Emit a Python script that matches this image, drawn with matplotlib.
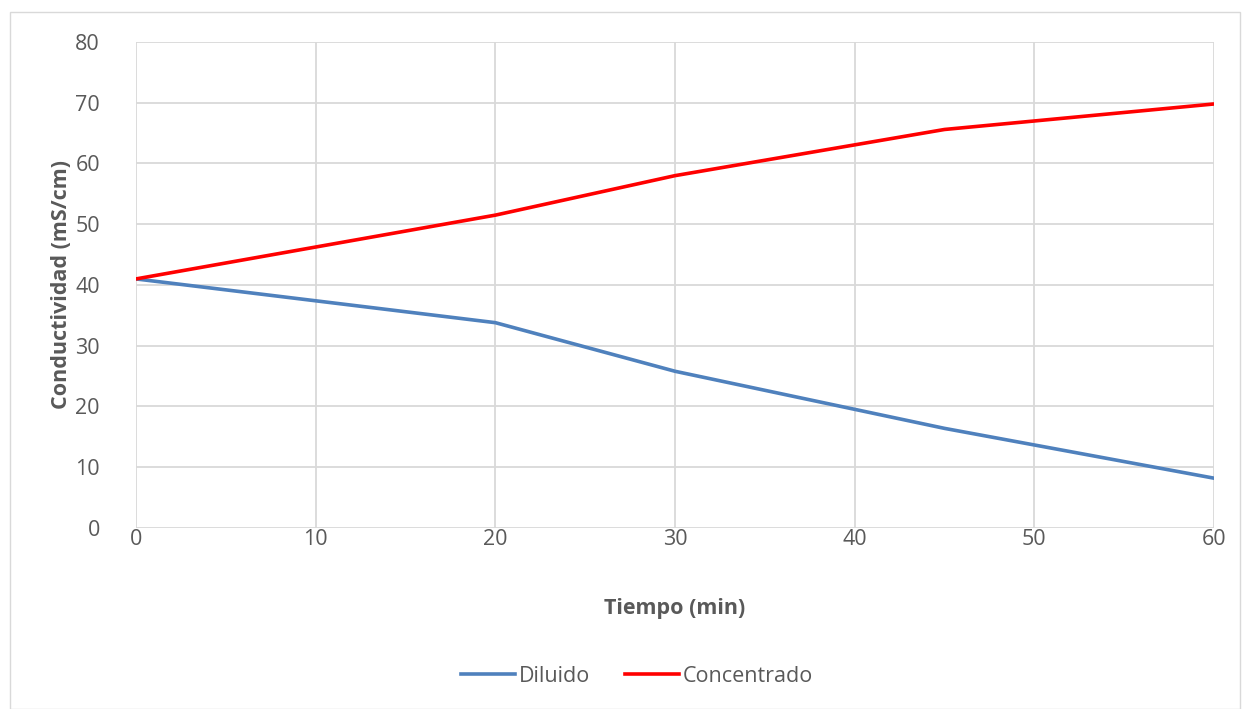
import matplotlib.pyplot as plt
import matplotlib.patches as patches

# data
tiempo = [0, 20, 30, 45, 60]
diluido = [41.0, 33.8, 25.8, 16.4, 8.2]
concentrado = [41.0, 51.5, 58.0, 65.6, 69.8]

plt.rcParams['font.family'] = ['Open Sans', 'DejaVu Sans']

fig = plt.figure(figsize=(12.47, 7.09), dpi=100)
W, H = 1247, 709
# plot area in pixels: left 136, right 1214, top 42, bottom 528
ax = fig.add_axes([136 / W, 1 - 528 / H, (1214 - 136) / W, (528 - 42) / H])

ax.plot(tiempo, diluido, color='#4f81bd', linewidth=2.6, label='Diluido')
ax.plot(tiempo, concentrado, color='#ff0000', linewidth=2.6, label='Concentrado')

ax.set_xlim(0, 60)
ax.set_ylim(0, 80)
ax.set_xticks(range(0, 61, 10))
ax.set_yticks(range(0, 81, 10))
ax.grid(True, color='#d9d9d9', linewidth=1.3)
ax.set_axisbelow(True)
for s in ax.spines.values():
    s.set_visible(False)
ax.tick_params(length=0, labelsize=15.5, labelcolor='#595959')
ax.tick_params(axis='x', pad=1)
ax.tick_params(axis='y', pad=26)

ax.set_xlabel('Tiempo (min)', fontsize=15.5, fontweight='bold', color='#595959', labelpad=34)
ax.set_ylabel('Conductividad (mS/cm)', fontsize=15.5, fontweight='bold', color='#595959', labelpad=2)

leg = fig.legend(loc='center', bbox_to_anchor=(637 / W, 1 - 676 / H), ncol=2, frameon=False,
                 fontsize=15.5, handlelength=2.5, columnspacing=1.6, handletextpad=0.2)
for t in leg.get_texts():
    t.set_color('#595959')

# outer chart border
fig.patches.append(patches.Rectangle((10 / W, 0), (1240 - 10) / W, 1 - 12 / H,
                                     transform=fig.transFigure, fill=False,
                                     edgecolor='#d9d9d9', linewidth=1.0))

fig.savefig('out.png', dpi=100, facecolor='white')
